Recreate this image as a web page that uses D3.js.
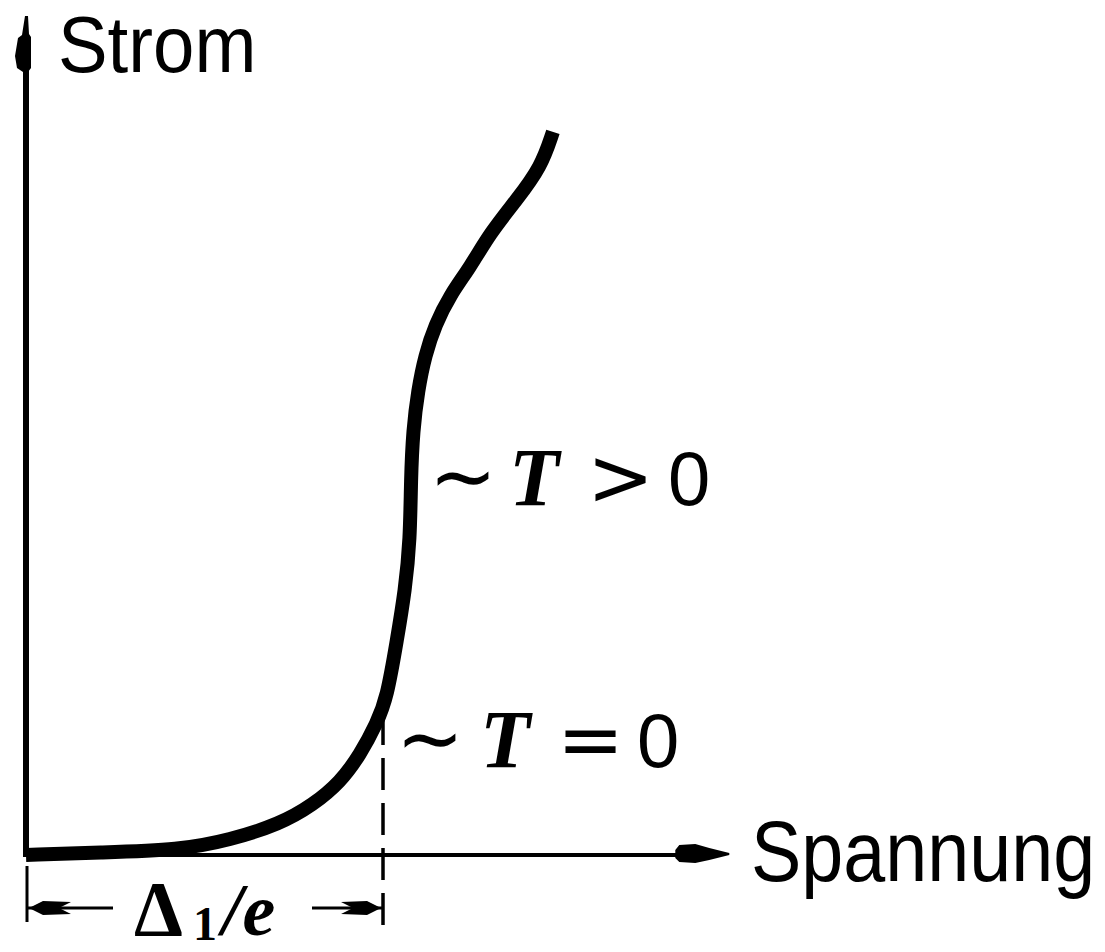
<!DOCTYPE html>
<html>
<head>
<meta charset="utf-8">
<script src="https://cdn.jsdelivr.net/npm/d3@7"></script>
<style>
  html, body { margin: 0; padding: 0; background: #fff; }
  svg { display: block; }
</style>
</head>
<body>
<svg id="chart" width="1105" height="952"></svg>
<script>
// Current–voltage characteristic of a superconducting tunnel junction.
// Voltage in units of Δ1/e, current in arbitrary units.
const voltage = [0, 0.207, 0.431, 0.571, 0.711, 0.804, 0.880, 0.936, 0.983, 1.011,
                 1.039, 1.062, 1.076, 1.078, 1.084, 1.098, 1.118, 1.146, 1.188,
                 1.244, 1.300, 1.373, 1.443, 1.476];
const current = [0, 0.003, 0.006, 0.018, 0.037, 0.060, 0.087, 0.120, 0.158, 0.188,
                 0.257, 0.317, 0.377, 0.449, 0.508, 0.556, 0.598, 0.634, 0.670,
                 0.703, 0.744, 0.783, 0.823, 0.865];
const gapVoltage = 1;          // Δ1/e
const axisMax = { v: 1.97, i: 1.0 };
const axisLabels = { x: "Spannung", y: "Strom" };
const curveLabels = ["T > 0", "T = 0"];

const svg = d3.select("#chart");
const x = d3.scaleLinear().domain([0, 1]).range([26, 383]);
const y = d3.scaleLinear().domain([0, 1]).range([855, 19]);

const ink = "#000";

// axes
svg.append("line")
  .attr("x1", x(0)).attr("y1", y(0) + 2)
  .attr("x2", x(0)).attr("y2", y(axisMax.i) + 30)
  .attr("stroke", ink).attr("stroke-width", 6);
svg.append("line")
  .attr("x1", x(0) - 3).attr("y1", y(0))
  .attr("x2", x(axisMax.v) - 40).attr("y2", y(0))
  .attr("stroke", ink).attr("stroke-width", 4);

// arrowheads (slender, drawn in local coordinates)
const yTip = [x(0), y(axisMax.i) - 3];
svg.append("path")
  .attr("transform", `translate(${yTip[0]},${yTip[1]})`)
  .attr("d", "M-1,0 L2,0 L3,18 L5,21 L5,52 L2,56 L-3,56 L-9,52 L-11,40 L-8,22 L-4,19 Z")
  .attr("fill", ink);
const xTip = [x(axisMax.v), y(0) - 1];
svg.append("path")
  .attr("transform", `translate(${xTip[0]},${xTip[1]})`)
  .attr("d", "M0,-1 L0,1 L-8,3 L-20,6 L-34,9 L-50,8 L-54,4 L-54,-4 L-50,-9 L-34,-10 L-20,-6 L-8,-3 Z")
  .attr("fill", ink);

// characteristic curve
const pts = voltage.map((v, k) => [x(v), y(current[k])]);
svg.append("path")
  .attr("d", d3.line().curve(d3.curveBasis)(pts))
  .attr("fill", "none").attr("stroke", ink)
  .attr("stroke-width", 14).attr("stroke-linecap", "butt").attr("stroke-linejoin", "round");

// gap voltage marker
svg.append("line")
  .attr("x1", x(gapVoltage)).attr("y1", 713)
  .attr("x2", x(gapVoltage)).attr("y2", 935)
  .attr("stroke", ink).attr("stroke-width", 3.5)
  .attr("stroke-dasharray", "32,13");
svg.append("line")
  .attr("x1", x(0) + 1).attr("y1", 866)
  .attr("x2", x(0) + 1).attr("y2", 922)
  .attr("stroke", ink).attr("stroke-width", 3);

// dimension arrows
const dimY = 908;
svg.append("line").attr("x1", x(0) + 2).attr("y1", dimY).attr("x2", 113).attr("y2", dimY)
  .attr("stroke", ink).attr("stroke-width", 3);
svg.append("line").attr("x1", 312).attr("y1", dimY).attr("x2", x(gapVoltage)).attr("y2", dimY)
  .attr("stroke", ink).attr("stroke-width", 3);
svg.append("path")
  .attr("transform", `translate(${x(0) + 3},${dimY})`)
  .attr("d", "M0,0 L14,-7 L42,-6 L30,0 L42,6 L14,7 Z").attr("fill", ink);
svg.append("path")
  .attr("transform", `translate(${x(gapVoltage) - 2},${dimY}) scale(-1,1)`)
  .attr("d", "M0,0 L14,-7 L40,-6 L28,0 L40,6 L14,7 Z").attr("fill", ink);

// dimension label Δ1/e
const serif = "'Liberation Serif', 'DejaVu Serif', serif";
const sans = "'Liberation Sans', Arial, sans-serif";
const math = "'DejaVu Sans', sans-serif";
svg.append("text").attr("x", 134).attr("y", 935)
  .attr("font-family", serif).attr("font-weight", "bold").attr("font-size", 78)
  .text("Δ");
svg.append("text").attr("x", 193).attr("y", 940)
  .attr("font-family", serif).attr("font-weight", "bold").attr("font-size", 48)
  .text("1");
svg.append("text").attr("x", 222).attr("y", 935)
  .attr("font-family", serif).attr("font-style", "italic").attr("font-weight", "bold").attr("font-size", 74)
  .text("/e");

// axis titles (horizontally condensed)
svg.append("text")
  .attr("transform", "translate(58,72) scale(0.93,1)")
  .attr("font-family", sans).attr("font-size", 80)
  .text(axisLabels.y);
svg.append("text")
  .attr("transform", "translate(751,881) scale(0.878,1)")
  .attr("font-family", sans).attr("font-size", 86)
  .text(axisLabels.x);

// curve annotations "∼T > 0" and "∼T = 0"
function annotate(x0, base, label, tx, opx, zx) {
  const [, op, zero] = label.split(" ");
  const g = svg.append("g").attr("transform", `translate(${x0},${base})`);
  g.append("text").attr("x", -6).attr("y", 0)
    .attr("font-family", math).attr("font-size", 84)
    .attr("textLength", 68).attr("lengthAdjust", "spacingAndGlyphs")
    .text("∼");
  g.append("text").attr("x", tx).attr("y", 0)
    .attr("font-family", serif).attr("font-style", "italic").attr("font-weight", "bold")
    .attr("font-size", 82).text("T");
  g.append("text").attr("x", opx).attr("y", 0)
    .attr("font-family", math).attr("font-size", 80).text(op);
  g.append("text").attr("x", zx).attr("y", 0)
    .attr("font-family", sans).attr("font-size", 76).text(zero);
}
annotate(435, 505, curveLabels[0], 74, 152, 233);
annotate(402, 767, curveLabels[1], 78, 155, 235);
</script>
</body>
</html>
